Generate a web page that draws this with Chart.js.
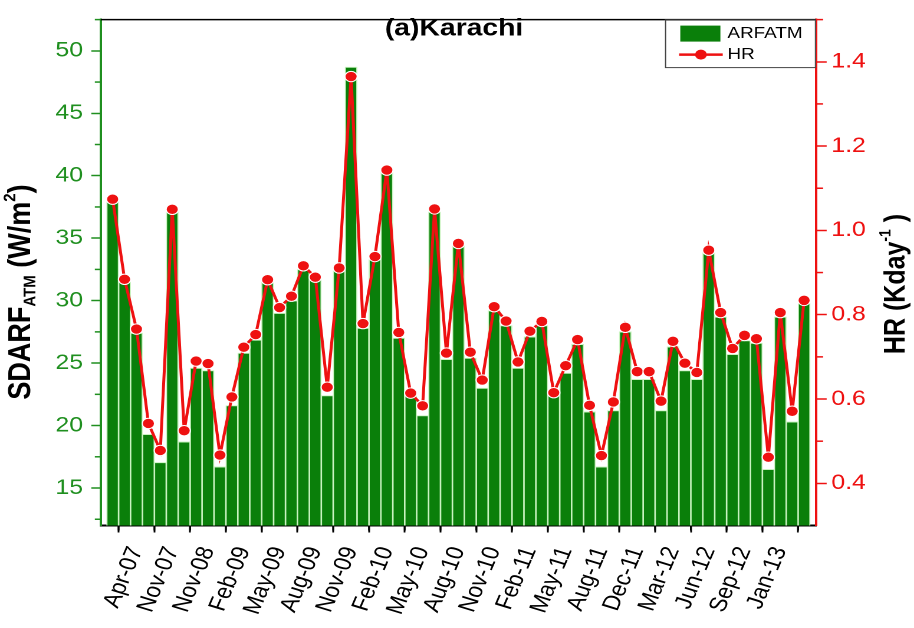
<!DOCTYPE html>
<html>
<head>
<meta charset="utf-8">
<title>(a)Karachi</title>
<script src="https://cdn.jsdelivr.net/npm/chart.js@4.4.1/dist/chart.umd.min.js"></script>
<style>
  html, body { margin: 0; padding: 0; background: #fff; overflow: hidden; }
  /* the figure is drawn narrower and stretched sideways, like the original plot */
  #marco { width: 775px; height: 628px; transform: scaleX(1.1794); transform-origin: 0 0; }
</style>
</head>
<body>
<div id="marco"><canvas id="grafico"></canvas></div>
<script>
// etiquetas del eje x (una cada 3 barras)
const tickLabels = ['Apr-07', 'Nov-07', 'Nov-08', 'Feb-09', 'May-09', 'Aug-09', 'Nov-09',
  'Feb-10', 'May-10', 'Aug-10', 'Nov-10', 'Feb-11', 'May-11', 'Aug-11', 'Dec-11',
  'Mar-12', 'Jun-12', 'Sep-12', 'Jan-13'];
const tickEvery = 3;

// ARFATM (W/m2), una barra por mes
const arfAtm = [37.9, 31.5, 27.4, 19.3, 17.05, 37.1, 18.7, 24.6, 24.4, 16.7,
  21.6, 25.8, 26.85, 31.5, 29.0, 30.0, 32.5, 31.7, 22.4, 32.4,
  48.7, 27.8, 33.3, 40.6, 27.0, 22.4, 20.8, 37.1, 25.3, 34.4,
  25.4, 23.0, 29.2, 28.0, 24.6, 27.1, 28.0, 22.4, 24.2, 26.5,
  21.1, 16.7, 21.2, 27.5, 23.7, 23.7, 21.2, 26.3, 24.4, 23.7,
  34.0, 28.7, 25.7, 26.8, 26.6, 16.5, 28.7, 20.3, 29.8];

// HR (K/day)
const hr = [1.074, 0.884, 0.766, 0.542, 0.478, 1.05, 0.525, 0.69, 0.684, 0.467,
  0.605, 0.723, 0.753, 0.883, 0.817, 0.844, 0.916, 0.889, 0.628, 0.911,
  1.365, 0.779, 0.938, 1.143, 0.758, 0.614, 0.584, 1.051, 0.709, 0.969,
  0.711, 0.645, 0.819, 0.785, 0.688, 0.761, 0.784, 0.615, 0.679, 0.741,
  0.585, 0.466, 0.593, 0.77, 0.665, 0.665, 0.595, 0.737, 0.685, 0.663,
  0.953, 0.805, 0.72, 0.751, 0.743, 0.462, 0.805, 0.571, 0.834];

const leftTicks = [15, 20, 25, 30, 35, 40, 45, 50];
const rightTicks = [0.4, 0.6, 0.8, 1.0, 1.2, 1.4];

const VERDE = '#0a7f0a';
const VERDE_EJE = '#1f8f1f';
const ROJO = '#ee1111';

const nBarras = arfAtm.length;
const xMax = nBarras + 1;

// marcas menores, título, leyenda y títulos de ejes
const decoraciones = {
  id: 'decoraciones',
  afterDraw(chart) {
    const { ctx, chartArea: a, scales } = chart;
    const sx = scales.x, sy = scales.y, sy1 = scales.y1;
    ctx.save();

    // marcas menores
    ctx.lineWidth = 1.5;
    ctx.strokeStyle = '#000';
    for (let v = tickEvery / 2; v < xMax; v += tickEvery) {
      const px = sx.getPixelForValue(v);
      ctx.beginPath(); ctx.moveTo(px, a.bottom); ctx.lineTo(px, a.bottom + 5); ctx.stroke();
    }
    ctx.strokeStyle = VERDE_EJE;
    for (let v = 12.5; v <= 52.5; v += 5) {
      const py = sy.getPixelForValue(v);
      ctx.beginPath(); ctx.moveTo(a.left - 5, py); ctx.lineTo(a.left, py); ctx.stroke();
    }
    ctx.strokeStyle = ROJO;
    for (let v = 0.5; v < 1.5; v += 0.2) {
      const py = sy1.getPixelForValue(v);
      ctx.beginPath(); ctx.moveTo(a.right, py); ctx.lineTo(a.right + 6, py); ctx.stroke();
    }

    // borde superior
    ctx.strokeStyle = '#000';
    ctx.lineWidth = 1.5;
    ctx.beginPath(); ctx.moveTo(a.left, a.top); ctx.lineTo(a.right, a.top); ctx.stroke();

    // título
    ctx.fillStyle = '#000';
    ctx.font = 'bold 24px Arial, "Liberation Sans"';
    ctx.textAlign = 'center';
    ctx.textBaseline = 'middle';
    ctx.fillText('(a)Karachi', 385, 29);

    // leyenda
    const lx = 563.8, ly = a.top, lw = a.right - 563.8, lh = 47.5;
    ctx.fillStyle = '#fff';
    ctx.fillRect(lx, ly, lw, lh);
    ctx.strokeStyle = '#444';
    ctx.lineWidth = 1;
    ctx.strokeRect(lx + 0.5, ly + 0.5, lw - 1, lh);
    const dsBar = chart.data.datasets[1], dsLin = chart.data.datasets[0];
    ctx.fillStyle = dsBar.backgroundColor;
    ctx.fillRect(lx + 13, ly + 6, 34, 16);
    ctx.strokeStyle = dsLin.borderColor;
    ctx.lineWidth = 2.5;
    ctx.beginPath(); ctx.moveTo(lx + 12, ly + 35); ctx.lineTo(lx + 49, ly + 35); ctx.stroke();
    ctx.fillStyle = dsLin.pointBackgroundColor;
    ctx.beginPath(); ctx.arc(lx + 30.5, ly + 35, 5, 0, Math.PI * 2); ctx.fill();
    ctx.fillStyle = '#000';
    ctx.font = '16px Arial, "Liberation Sans"';
    ctx.textAlign = 'left';
    ctx.fillText(dsBar.label, lx + 53, ly + 14);
    ctx.fillText(dsLin.label, lx + 53, ly + 35);

    // títulos de ejes con subíndice / superíndice
    textoRico(ctx, [
      { t: 'SDARF', s: 27 },
      { t: 'ATM', s: 15, dy: 8 },
      { t: ' (W/m', s: 27 },
      { t: '2', s: 15, dy: -9 },
      { t: ')', s: 27 }
    ], 18, 292);
    textoRico(ctx, [
      { t: 'HR (Kday', s: 25 },
      { t: '-1', s: 14, dy: -9 },
      { t: ' )', s: 25 }
    ], 760, 284);

    ctx.restore();
  }
};

function textoRico(ctx, partes, cx, cy) {
  ctx.save();
  ctx.translate(cx, cy);
  ctx.rotate(-Math.PI / 2);
  ctx.textAlign = 'left';
  ctx.textBaseline = 'middle';
  ctx.fillStyle = '#000';
  let total = 0;
  partes.forEach(p => {
    ctx.font = 'bold ' + p.s + 'px Arial, "Liberation Sans"';
    p.w = ctx.measureText(p.t).width;
    total += p.w;
  });
  let x = -total / 2;
  partes.forEach(p => {
    ctx.font = 'bold ' + p.s + 'px Arial, "Liberation Sans"';
    ctx.fillText(p.t, x, p.dy || 0);
    x += p.w;
  });
  ctx.restore();
}

const ctx = document.getElementById('grafico').getContext('2d');
new Chart(ctx, {
  data: {
    datasets: [
      {
        type: 'line',
        label: 'HR',
        yAxisID: 'y1',
        data: hr.map((v, i) => ({ x: i + 1, y: v })),
        borderColor: ROJO,
        borderWidth: 2.5,
        pointRadius: 5.2,
        pointBackgroundColor: ROJO,
        pointBorderColor: '#fff',
        pointBorderWidth: 1,
        tension: 0,
        order: 1
      },
      {
        type: 'bar',
        label: 'ARFATM',
        yAxisID: 'y',
        data: arfAtm.map((v, i) => ({ x: i + 1, y: v })),
        backgroundColor: VERDE,
        borderColor: '#c9f3c0',
        borderWidth: 1,
        categoryPercentage: 1,
        barPercentage: 1,
        order: 2
      }
    ]
  },
  plugins: [decoraciones],
  options: {
    responsive: true,
    maintainAspectRatio: false,
    animation: false,
    devicePixelRatio: 2,
    layout: { padding: { top: 11.6, left: 0, right: 0, bottom: 0 } },
    plugins: {
      legend: { display: false },
      tooltip: { enabled: false },
      title: { display: false }
    },
    scales: {
      x: {
        type: 'linear',
        position: 'bottom',
        min: 0,
        max: xMax,
        offset: false,
        afterBuildTicks: s => {
          const t = [];
          for (let v = 0; v <= xMax; v += tickEvery) t.push({ value: v });
          s.ticks = t;
        },
        afterFit: s => { s.height = 102.5; },
        ticks: {
          autoSkip: false,
          minRotation: 70,
          maxRotation: 70,
          padding: 11,
          color: '#000',
          font: { family: 'Arial, "Liberation Sans"', size: 21 },
          callback: v => tickLabels[v / tickEvery - 1] || ''
        },
        grid: { drawOnChartArea: false, drawTicks: true, tickLength: 7, tickColor: '#000', tickWidth: 1.5 },
        border: { display: true, color: '#000', width: 2 }
      },
      y: {
        type: 'linear',
        position: 'left',
        min: 12,
        max: 52.5,
        afterBuildTicks: s => { s.ticks = leftTicks.map(v => ({ value: v })); },
        afterFit: s => { s.width = 85.4; },
        ticks: {
          padding: 7,
          color: VERDE_EJE,
          font: { family: 'Arial, "Liberation Sans"', size: 21 }
        },
        grid: { drawOnChartArea: false, drawTicks: true, tickLength: 8, tickColor: VERDE_EJE, tickWidth: 1.5 },
        border: { display: true, color: VERDE_EJE, width: 2 }
      },
      y1: {
        type: 'linear',
        position: 'right',
        min: 0.3,
        max: 1.5,
        afterBuildTicks: s => { s.ticks = rightTicks.map(v => ({ value: v })); },
        afterFit: s => { s.width = 83.1; },
        ticks: {
          padding: 4,
          color: ROJO,
          font: { family: 'Arial, "Liberation Sans"', size: 21 },
          callback: v => v.toFixed(1)
        },
        grid: { drawOnChartArea: false, drawTicks: true, tickLength: 9, tickColor: ROJO, tickWidth: 1.5 },
        border: { display: true, color: ROJO, width: 2 }
      }
    }
  }
});
</script>
</body>
</html>
